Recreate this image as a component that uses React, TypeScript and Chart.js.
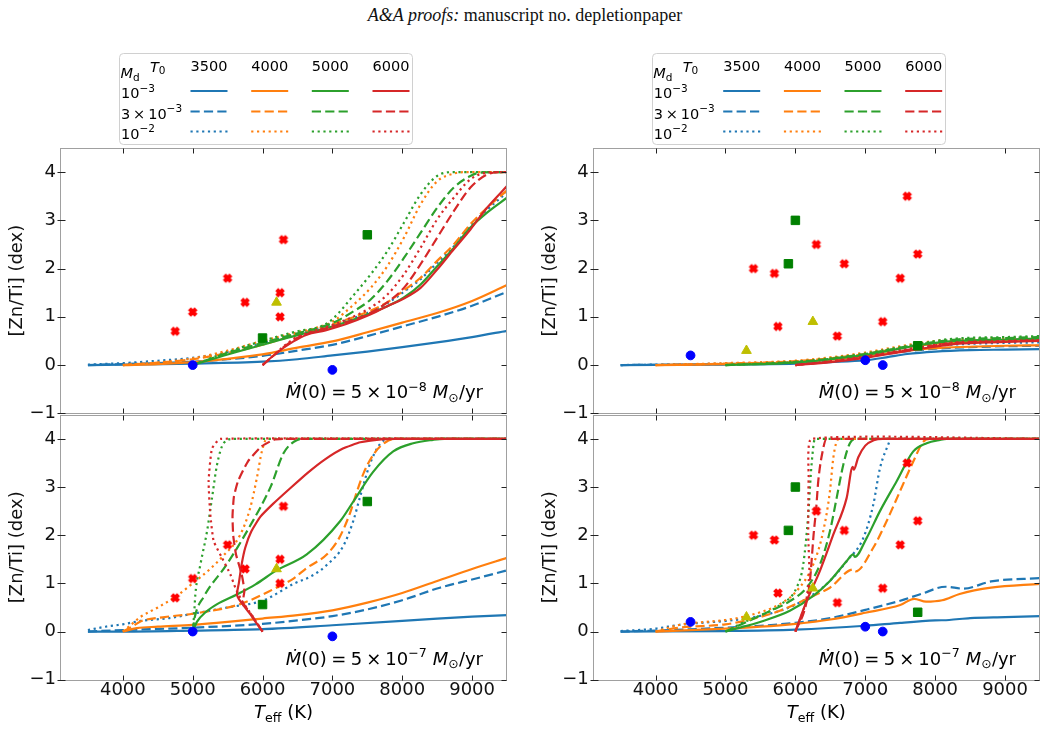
import React, { useEffect, useRef } from 'react';
import { Chart, registerables } from 'chart.js';

Chart.register(...registerables);

type P = [number, number];

const FONT = "'DejaVu Sans', 'Noto Sans', sans-serif";
const LINE_COLORS = ['#1f77b4', '#ff7f0e', '#2ca02c', '#d62728'];
const T0_LABELS = ['3500', '4000', '5000', '6000'];
const MD_ROWS = [
  { base: '10', sup: '\u22123' },
  { base: '3\u2009\u00d7\u200910', sup: '\u22123' },
  { base: '10', sup: '\u22122' },
];
const DASHES: number[][] = [[], [9.2, 4.2], [2.2, 3.6]];
const X_TICKS = [4000, 5000, 6000, 7000, 8000, 9000];
const Y_TICKS = [-1, 0, 1, 2, 3, 4];
const MDOT_EXP = ['\u22128', '\u22127'];

// ---------- observations (left column) ----------
const RED_X_A: P[] = [[4750, 0.7], [5000, 1.1], [5500, 1.8], [5750, 1.3], [6250, 1.5], [6250, 1.0], [6300, 2.6]];
const GREEN_SQ_A: P[] = [[6000, 0.56], [7500, 2.7]];
const YELLOW_TRI_A: P[] = [[6200, 1.3]];
const BLUE_CIRC_A: P[] = [[5000, 0], [7000, -0.1]];
// ---------- observations (right column) ----------
const RED_X_B: P[] = [[5400, 2.0], [5700, 1.9], [5750, 0.8], [6300, 2.5], [6600, 0.6], [6700, 2.1], [7250, 0.9], [7500, 1.8], [7600, 3.5], [7750, 2.3]];
const GREEN_SQ_B: P[] = [[5900, 2.1], [6000, 3.0], [7750, 0.4]];
const YELLOW_TRI_B: P[] = [[5300, 0.3], [6250, 0.9]];
const BLUE_CIRC_B: P[] = [[4500, 0.2], [7000, 0.1], [7250, 0]];

// ---------- top-left models (Mdot = 5e-8) ----------
const TL_35_S: P[] = [[3500, 0], [4000, 0.01], [5000, 0.03], [6000, 0.07], [6500, 0.12], [7000, 0.2], [7500, 0.28], [8000, 0.37], [8500, 0.47], [9000, 0.58], [9500, 0.71]];
const TL_35_D: P[] = [[3500, 0], [4000, 0.02], [5000, 0.07], [5500, 0.12], [6000, 0.19], [6500, 0.3], [7000, 0.42], [7500, 0.6], [8000, 0.8], [8500, 1.0], [9000, 1.23], [9500, 1.52]];
const TL_35_P: P[] = [[3500, 0.01], [4000, 0.04], [4500, 0.09], [5000, 0.15], [5500, 0.27], [6000, 0.45], [6500, 0.65], [7000, 0.84], [7500, 1.08], [7786, 1.28], [8024, 1.52], [8262, 1.78], [8500, 2.12], [8738, 2.46], [8976, 2.88], [9214, 3.22], [9500, 3.58]];
const TL_40_S: P[] = [[4000, 0], [4500, 0.02], [5000, 0.06], [5500, 0.13], [6000, 0.22], [6500, 0.36], [7000, 0.49], [7500, 0.68], [8000, 0.88], [8500, 1.08], [9000, 1.33], [9500, 1.66]];
const TL_40_D: P[] = [[4000, 0], [4500, 0.05], [5000, 0.12], [5500, 0.25], [6000, 0.42], [6500, 0.64], [7000, 0.85], [7500, 1.1], [7786, 1.3], [8024, 1.55], [8262, 1.81], [8500, 2.16], [8738, 2.5], [8976, 2.92], [9214, 3.26], [9500, 3.62]];
const TL_40_P: P[] = [[4000, 0], [4500, 0.05], [5000, 0.14], [5500, 0.3], [6000, 0.5], [6500, 0.68], [6833, 0.8], [7000, 0.9], [7310, 1.26], [7548, 1.6], [7786, 2.05], [8024, 2.64], [8262, 3.33], [8500, 3.81], [8738, 3.97], [8900, 4.0], [9500, 4.0]];
const TL_50_S: P[] = [[5000, 0], [5500, 0.22], [6000, 0.42], [6500, 0.62], [7000, 0.8], [7500, 1.05], [7786, 1.22], [8024, 1.4], [8262, 1.67], [8500, 2.05], [8738, 2.43], [8976, 2.85], [9214, 3.16], [9500, 3.47]];
const TL_50_D: P[] = [[5000, 0], [5500, 0.25], [6000, 0.46], [6500, 0.66], [7000, 0.87], [7310, 1.12], [7548, 1.36], [7786, 1.74], [8024, 2.22], [8262, 2.74], [8500, 3.26], [8738, 3.68], [8976, 3.92], [9119, 3.99], [9300, 4.0], [9500, 4.0]];
const TL_50_P: P[] = [[5000, 0], [5500, 0.27], [6000, 0.5], [6500, 0.7], [6833, 0.8], [7000, 0.95], [7310, 1.46], [7548, 1.88], [7786, 2.36], [8024, 2.95], [8262, 3.54], [8500, 3.92], [8738, 4.0], [9500, 4.0]];
const TL_60_S: P[] = [[6000, 0], [6200, 0.25], [6443, 0.49], [6633, 0.63], [6900, 0.72], [7200, 0.85], [7500, 1.02], [7786, 1.22], [8024, 1.38], [8262, 1.6], [8500, 1.98], [8738, 2.4], [8976, 2.81], [9214, 3.26], [9500, 3.71]];
const TL_60_D: P[] = [[6000, 0], [6443, 0.52], [6633, 0.64], [7000, 0.8], [7500, 1.05], [7786, 1.3], [8024, 1.6], [8262, 2.09], [8500, 2.64], [8738, 3.19], [8976, 3.68], [9214, 3.95], [9405, 4.0], [9500, 4.0]];
const TL_60_P: P[] = [[6000, 0], [6443, 0.54], [6633, 0.66], [7000, 0.83], [7500, 1.15], [7786, 1.46], [8024, 1.88], [8262, 2.43], [8500, 3.02], [8738, 3.47], [8976, 3.85], [9214, 3.99], [9400, 4.0], [9500, 4.0]];

// ---------- top-right models (Mdot = 5e-8) ----------
const TR_35_S: P[] = [[3500, 0], [5000, 0.01], [6000, 0.03], [6500, 0.06], [7000, 0.1], [7300, 0.16], [7600, 0.23], [8000, 0.28], [8500, 0.31], [9000, 0.32], [9500, 0.33]];
const TR_35_D: P[] = [[3500, 0], [5000, 0.02], [6000, 0.05], [6500, 0.1], [7000, 0.17], [7500, 0.27], [8000, 0.34], [8500, 0.37], [9000, 0.39], [9500, 0.4]];
const TR_35_P: P[] = [[3500, 0], [5000, 0.03], [6000, 0.07], [6500, 0.13], [7000, 0.21], [7500, 0.32], [8000, 0.4], [8500, 0.44], [9000, 0.46], [9500, 0.47]];
const TR_40_S: P[] = [[4000, 0], [5000, 0.02], [6000, 0.06], [6500, 0.11], [7000, 0.18], [7500, 0.28], [8000, 0.35], [8500, 0.38], [9000, 0.4], [9500, 0.41]];
const TR_40_D: P[] = [[4000, 0], [5000, 0.03], [6000, 0.08], [6500, 0.14], [7000, 0.23], [7500, 0.35], [8000, 0.44], [8500, 0.48], [9000, 0.5], [9500, 0.51]];
const TR_40_P: P[] = [[4000, 0], [5000, 0.04], [6000, 0.09], [6500, 0.16], [7000, 0.26], [7500, 0.39], [8000, 0.5], [8500, 0.54], [9000, 0.56], [9500, 0.57]];
const TR_50_S: P[] = [[5000, 0], [5500, 0.02], [6000, 0.05], [6500, 0.12], [7000, 0.21], [7500, 0.34], [7750, 0.41], [8000, 0.46], [8300, 0.5], [9000, 0.53], [9500, 0.55]];
const TR_50_D: P[] = [[5000, 0], [6000, 0.06], [6500, 0.13], [7000, 0.23], [7500, 0.36], [7750, 0.42], [8000, 0.48], [8300, 0.53], [9000, 0.56], [9500, 0.58]];
const TR_50_P: P[] = [[5000, 0], [6000, 0.07], [6500, 0.14], [7000, 0.24], [7500, 0.37], [7750, 0.43], [8000, 0.5], [8300, 0.55], [9000, 0.58], [9500, 0.6]];
const TR_60_S: P[] = [[6000, 0], [6500, 0.06], [7000, 0.15], [7500, 0.27], [7750, 0.33], [8000, 0.38], [8300, 0.44], [9000, 0.48], [9500, 0.5]];
const TR_60_D: P[] = [[6000, 0], [6500, 0.07], [7000, 0.17], [7500, 0.29], [7750, 0.35], [8000, 0.41], [8300, 0.46], [9000, 0.49], [9500, 0.51]];
const TR_60_P: P[] = [[6000, 0], [6500, 0.08], [7000, 0.18], [7500, 0.3], [7750, 0.36], [8000, 0.42], [8300, 0.47], [9000, 0.5], [9500, 0.52]];

// ---------- bottom-left models (Mdot = 5e-7) ----------
const BL_35_S: P[] = [[3500, 0], [4000, 0.0], [5000, 0.02], [6000, 0.05], [7000, 0.13], [8000, 0.22], [8500, 0.27], [9000, 0.31], [9500, 0.34]];
const BL_35_D: P[] = [[3500, 0], [4000, 0.03], [5000, 0.08], [6000, 0.16], [6500, 0.23], [7000, 0.32], [7500, 0.46], [8000, 0.65], [8538, 0.91], [9000, 1.08], [9500, 1.27]];
const BL_35_P: P[] = [[3500, 0.03], [3750, 0.1], [4000, 0.15], [4250, 0.22], [4670, 0.28], [5000, 0.37], [5500, 0.5], [6000, 0.64], [6157, 0.75], [6443, 0.99], [6700, 1.15], [6919, 1.38], [7157, 1.78], [7300, 2.3], [7395, 2.79], [7538, 3.48], [7681, 3.89], [7800, 4.0], [9500, 4.0]];
const BL_40_S: P[] = [[4000, 0], [4200, 0.07], [4500, 0.1], [5000, 0.14], [5500, 0.2], [6000, 0.27], [6500, 0.34], [7000, 0.44], [7500, 0.6], [8000, 0.8], [8500, 1.05], [9000, 1.3], [9500, 1.53]];
const BL_40_D: P[] = [[4000, 0], [4150, 0.12], [4252, 0.21], [4600, 0.3], [5000, 0.37], [5681, 0.57], [6157, 0.88], [6443, 1.1], [6633, 1.32], [6919, 1.6], [7100, 1.95], [7250, 2.45], [7350, 2.9], [7450, 3.3], [7600, 3.7], [7750, 3.92], [7900, 4.0], [9500, 4.0]];
const BL_40_P: P[] = [[4000, 0], [4100, 0.12], [4250, 0.3], [4500, 0.5], [4750, 0.72], [5000, 1.0], [5250, 1.3], [5443, 1.58], [5681, 2.01], [5824, 2.57], [5919, 3.19], [5990, 3.74], [6062, 4.0], [9500, 4.0]];
const BL_50_S: P[] = [[5000, 0], [5060, 0.2], [5200, 0.42], [5350, 0.57], [5633, 0.77], [5900, 0.98], [6200, 1.27], [6633, 1.6], [7110, 2.29], [7300, 2.7], [7586, 3.32], [7871, 3.74], [8157, 3.91], [8443, 3.98], [8600, 4.0], [9500, 4.0]];
const BL_50_D: P[] = [[5000, 0], [5030, 0.3], [5157, 0.72], [5490, 1.4], [5824, 2.2], [6120, 3.02], [6300, 3.7], [6490, 3.97], [6633, 4.0], [9500, 4.0]];
const BL_50_P: P[] = [[5000, 0], [5020, 0.35], [5038, 0.77], [5110, 1.39], [5205, 2.08], [5276, 2.77], [5348, 3.46], [5443, 3.91], [5586, 4.0], [9500, 4.0]];
const BL_60_S: P[] = [[6000, 0], [5900, 0.2], [5824, 0.36], [5681, 0.63], [5633, 0.77], [5660, 1.0], [5700, 1.39], [5752, 1.74], [5840, 2.08], [5967, 2.38], [6150, 2.65], [6400, 2.98], [6650, 3.3], [6900, 3.58], [7150, 3.8], [7400, 3.93], [7700, 3.99], [7900, 4.0], [9500, 4.0]];
const BL_60_D: P[] = [[6000, 0], [5850, 0.33], [5720, 0.6], [5740, 0.85], [5700, 1.2], [5620, 1.6], [5580, 2.0], [5570, 2.4], [5590, 2.8], [5648, 3.12], [5790, 3.53], [5981, 3.84], [6157, 3.98], [6300, 4.0], [9500, 4.0]];
const BL_60_P: P[] = [[6000, 0], [5850, 0.33], [5700, 0.65], [5610, 0.91], [5538, 1.19], [5419, 1.53], [5300, 1.88], [5252, 2.43], [5228, 3.12], [5276, 3.8], [5395, 4.0], [9500, 4.0]];

// ---------- bottom-right models (Mdot = 5e-7) ----------
const BR_35_S: P[] = [[3500, 0], [5000, 0.01], [6000, 0.04], [7000, 0.12], [7500, 0.18], [8000, 0.23], [8200, 0.24], [8500, 0.28], [9000, 0.3], [9500, 0.32]];
const BR_35_D: P[] = [[3500, 0], [4000, 0.02], [5000, 0.08], [5500, 0.12], [6000, 0.18], [6500, 0.28], [7000, 0.45], [7500, 0.64], [7800, 0.78], [8150, 0.93], [8400, 0.89], [8800, 1.04], [9500, 1.11]];
const BR_35_P: P[] = [[3500, 0.01], [4000, 0.06], [4346, 0.14], [5000, 0.22], [5300, 0.27], [5778, 0.43], [6017, 0.57], [6255, 0.77], [6494, 1.05], [6733, 1.46], [6971, 1.94], [7114, 2.63], [7210, 3.39], [7343, 3.94]];
const BR_40_S: P[] = [[4000, 0], [5000, 0.06], [5500, 0.1], [6000, 0.16], [6500, 0.25], [7000, 0.39], [7500, 0.55], [7700, 0.68], [7870, 0.62], [8100, 0.65], [8350, 0.78], [8800, 0.91], [9500, 0.99]];
const BR_40_D: P[] = [[4000, 0], [4346, 0.08], [5000, 0.15], [5300, 0.23], [5778, 0.43], [6255, 0.74], [6494, 0.91], [6828, 1.29], [6860, 1.25], [7114, 1.74], [7305, 2.29], [7496, 2.91], [7687, 3.53], [7830, 3.94], [7926, 4.0], [9500, 4.0]];
const BR_40_P: P[] = [[4000, 0], [4346, 0.14], [5000, 0.24], [5300, 0.32], [5778, 0.57], [6017, 0.84], [6255, 1.39], [6398, 2.08], [6494, 2.91], [6542, 3.6], [6590, 3.94], [6637, 4.0], [9500, 4.0]];
const BR_50_S: P[] = [[5000, 0], [5539, 0.22], [5921, 0.43], [6255, 0.74], [6494, 1.05], [6733, 1.46], [6828, 1.6], [6850, 1.55], [7019, 1.94], [7210, 2.5], [7449, 3.12], [7687, 3.74], [7878, 3.91], [8069, 3.98], [8164, 4.0], [9500, 4.0]];
const BR_50_D: P[] = [[5000, 0], [5539, 0.36], [5921, 0.63], [6160, 0.91], [6351, 1.39], [6494, 2.08], [6590, 2.77], [6685, 3.46], [6780, 3.91], [6876, 4.0], [9500, 4.0]];
const BR_50_P: P[] = [[5000, 0], [5300, 0.22], [5600, 0.4], [5778, 0.55], [6017, 0.91], [6112, 1.39], [6184, 2.43], [6231, 3.46], [6280, 4.0], [9500, 4.0]];
const BR_60_S: P[] = [[6000, 0], [6160, 0.63], [6351, 1.26], [6542, 2.01], [6733, 2.77], [6820, 3.42], [6835, 3.36], [6900, 3.62], [7000, 3.86], [7120, 3.97], [7250, 4.0], [9500, 4.0]];
const BR_60_D: P[] = [[6000, 0], [6150, 0.55], [6208, 1.05], [6260, 2.0], [6300, 2.6], [6327, 3.12], [6398, 3.8], [6446, 4.0], [9500, 4.0]];
const BR_60_P: P[] = [[6000, 0], [6150, 0.6], [6200, 1.2], [6184, 2.0], [6190, 3.2], [6231, 4.0], [9500, 4.0]];

type Panel = {
  lines: P[][];
  obs: { redX: P[]; greenSq: P[]; yellowTri: P[]; blueCirc: P[] };
  exp: string;
  bottom: boolean;
  left: number;
  top: number;
  w: number;
  h: number;
  areaLeft: number;
  padRight: number;
  padTop: number;
  padBottom: number;
  xAxisH: number;
  titlePad: number;
};

const OBS_A = { redX: RED_X_A, greenSq: GREEN_SQ_A, yellowTri: YELLOW_TRI_A, blueCirc: BLUE_CIRC_A };
const OBS_B = { redX: RED_X_B, greenSq: GREEN_SQ_B, yellowTri: YELLOW_TRI_B, blueCirc: BLUE_CIRC_B };

const PANELS: Panel[] = [
  {
    lines: [TL_35_S, TL_35_D, TL_35_P, TL_40_S, TL_40_D, TL_40_P, TL_50_S, TL_50_D, TL_50_P, TL_60_S, TL_60_D, TL_60_P],
    obs: OBS_A, exp: MDOT_EXP[0], bottom: false,
    left: 0, top: 40, w: 530, h: 390, areaLeft: 60, padRight: 23, padTop: 108, padBottom: 16.7, xAxisH: 0, titlePad: 7,
  },
  {
    lines: [TR_35_S, TR_35_D, TR_35_P, TR_40_S, TR_40_D, TR_40_P, TR_50_S, TR_50_D, TR_50_P, TR_60_S, TR_60_D, TR_60_P],
    obs: OBS_B, exp: MDOT_EXP[0], bottom: false,
    left: 530, top: 40, w: 517, h: 390, areaLeft: 62.7, padRight: 7, padTop: 108, padBottom: 16.7, xAxisH: 0, titlePad: 9.7,
  },
  {
    lines: [BL_35_S, BL_35_D, BL_35_P, BL_40_S, BL_40_D, BL_40_P, BL_50_S, BL_50_D, BL_50_P, BL_60_S, BL_60_D, BL_60_P],
    obs: OBS_A, exp: MDOT_EXP[1], bottom: true,
    left: 0, top: 400, w: 530, h: 329, areaLeft: 60, padRight: 23, padTop: 13.3, padBottom: 0, xAxisH: 49.3, titlePad: 7,
  },
  {
    lines: [BR_35_S, BR_35_D, BR_35_P, BR_40_S, BR_40_D, BR_40_P, BR_50_S, BR_50_D, BR_50_P, BR_60_S, BR_60_D, BR_60_P],
    obs: OBS_B, exp: MDOT_EXP[1], bottom: true,
    left: 530, top: 400, w: 517, h: 329, areaLeft: 62.7, padRight: 7, padTop: 13.3, padBottom: 0, xAxisH: 49.3, titlePad: 9.7,
  },
];

let xMarkerCanvas: HTMLCanvasElement | null = null;
function getXMarker(): HTMLCanvasElement {
  if (xMarkerCanvas) return xMarkerCanvas;
  const s = 12;
  const c = document.createElement('canvas');
  c.width = s;
  c.height = s;
  const g = c.getContext('2d')!;
  g.translate(s / 2, s / 2);
  g.rotate(Math.PI / 4);
  const L = 4.7;
  const W = 2.05;
  g.fillStyle = '#ff0000';
  g.beginPath();
  g.rect(-L, -W, 2 * L, 2 * W);
  g.rect(-W, -L, 2 * W, 2 * L);
  g.fill('nonzero');
  xMarkerCanvas = c;
  return c;
}

type Seg = { t: string; size: number; italic?: boolean; dy?: number; gapL?: number; gapR?: number };

function drawRich(ctx: CanvasRenderingContext2D, segs: Seg[], x: number, y: number, align: 'left' | 'right' | 'center') {
  const fonts = segs.map((s) => `${s.italic ? 'italic ' : ''}${s.size}px ${FONT}`);
  let total = 0;
  segs.forEach((s, i) => {
    ctx.font = fonts[i];
    total += (s.gapL || 0) + ctx.measureText(s.t).width + (s.gapR || 0);
  });
  let cx = align === 'right' ? x - total : align === 'center' ? x - total / 2 : x;
  ctx.textAlign = 'left';
  ctx.textBaseline = 'alphabetic';
  ctx.fillStyle = '#000';
  segs.forEach((s, i) => {
    ctx.font = fonts[i];
    cx += s.gapL || 0;
    ctx.fillText(s.t, cx, y + (s.dy || 0));
    cx += ctx.measureText(s.t).width + (s.gapR || 0);
  });
}

function drawLegend(ctx: CanvasRenderingContext2D, x0: number, y0: number) {
  ctx.save();
  const bx = x0 + 59, by = y0 - 95, bw = 293, bh = 91;
  ctx.beginPath();
  ctx.roundRect(Math.round(bx) + 0.5, Math.round(by) + 0.5, bw, bh, 4);
  ctx.fillStyle = 'rgba(255,255,255,0.8)';
  ctx.fill();
  ctx.strokeStyle = '#d0d0d0';
  ctx.lineWidth = 1;
  ctx.stroke();

  const fs = 14.5;
  drawRich(ctx, [{ t: 'M', size: fs, italic: true }, { t: 'd', size: 10.5, dy: 3 }], x0 + 60.5, y0 - 70, 'left');
  drawRich(ctx, [{ t: 'T', size: fs, italic: true }, { t: '0', size: 10.5, dy: 2.5 }], x0 + 90, y0 - 76.5, 'left');
  const colX = [149, 209.7, 270.3, 331];
  T0_LABELS.forEach((lab, i) => {
    drawRich(ctx, [{ t: lab, size: fs }], x0 + colX[i], y0 - 77, 'center');
  });
  const rowBase = [-50, -29.5, -9.5];
  MD_ROWS.forEach((r, j) => {
    drawRich(ctx, [{ t: r.base, size: fs }, { t: r.sup, size: 10.5, dy: -6.5 }], x0 + 61, y0 + rowBase[j], 'left');
    LINE_COLORS.forEach((col, i) => {
      ctx.beginPath();
      ctx.strokeStyle = col;
      ctx.lineWidth = 2.2;
      ctx.lineCap = 'butt';
      ctx.setLineDash(DASHES[j]);
      const cx = x0 + colX[i];
      const yy = y0 + rowBase[j] - 7;
      ctx.moveTo(cx - 18.5, yy);
      ctx.lineTo(cx + 18.5, yy);
      ctx.stroke();
    });
  });
  ctx.setLineDash([]);
  ctx.restore();
}

function makePlugin(p: Panel) {
  return {
    id: 'panelDeco',
    afterDraw(chart: any) {
      const { ctx, chartArea: a, scales } = chart;
      ctx.save();
      // spines (pixel-snapped)
      const L = Math.round(a.left) + 0.5;
      const R = Math.round(a.right) - 0.5;
      const T = Math.round(a.top) + 0.5;
      const B = Math.round(a.bottom) + 0.5;
      ctx.strokeStyle = '#a0a0a0';
      ctx.lineWidth = 1;
      ctx.setLineDash([]);
      ctx.strokeRect(L, T, R - L, B - T);
      // inward ticks
      ctx.strokeStyle = '#222';
      ctx.lineWidth = 1;
      ctx.beginPath();
      X_TICKS.forEach((v) => {
        const px = Math.round(scales.x.getPixelForValue(v)) + 0.5;
        ctx.moveTo(px, B);
        ctx.lineTo(px, B - 5);
        ctx.moveTo(px, T);
        ctx.lineTo(px, T + 5);
      });
      Y_TICKS.forEach((v) => {
        const py = Math.round(scales.y.getPixelForValue(v)) + 0.5;
        ctx.moveTo(L - 3, py);
        ctx.lineTo(L + 5, py);
        ctx.moveTo(R, py);
        ctx.lineTo(R - 5, py);
      });
      ctx.stroke();
      // Mdot annotation
      drawRich(
        ctx,
        [
          { t: '\u1E40', size: 18, italic: true },
          { t: '(0)', size: 18 },
          { t: '=', size: 18, gapL: 4.5, gapR: 4.5 },
          { t: '5', size: 18 },
          { t: '\u00d7', size: 18, gapL: 4, gapR: 4 },
          { t: '10', size: 18 },
          { t: p.exp, size: 12.6, dy: -7.5 },
          { t: 'M', size: 18, italic: true, gapL: 6 },
          { t: '\u2299', size: 12.6, dy: 3.5 },
          { t: '/yr', size: 18 },
        ],
        a.right - 24,
        a.bottom - 15,
        'right'
      );
      if (p.bottom) {
        drawRich(
          ctx,
          [
            { t: 'T', size: 18, italic: true },
            { t: 'eff', size: 12.6, dy: 3.5 },
            { t: ' (K)', size: 18 },
          ],
          (a.left + a.right) / 2,
          a.bottom + 38.3,
          'center'
        );
      } else {
        drawLegend(ctx, a.left, a.top);
      }
      ctx.restore();
    },
  };
}

const toXY = (arr: P[]) => arr.map(([x, y]) => ({ x, y }));
const isMonotone = (arr: P[]) => arr.every((pt, i) => i === 0 || pt[0] > arr[i - 1][0]);
const fmtY = (v: number) => (v < 0 ? '\u2212' + Math.abs(v) : String(v));

function buildConfig(p: Panel): any {
  const xImg = getXMarker();
  const markerSets = [
    { data: toXY(p.obs.blueCirc), pointStyle: 'circle', pointRadius: 4.4, color: '#0000ff' },
    { data: toXY(p.obs.greenSq), pointStyle: 'rect', pointRadius: 6, color: '#008000' },
    { data: toXY(p.obs.yellowTri), pointStyle: 'triangle', pointRadius: 5.6, color: '#bfbf00' },
    { data: toXY(p.obs.redX), pointStyle: xImg, pointRadius: 5, color: '#ff0000' },
  ].map((m) => ({
    data: m.data,
    showLine: false,
    pointStyle: m.pointStyle,
    pointRadius: m.pointRadius,
    pointBackgroundColor: m.color,
    pointBorderColor: m.color,
    pointBorderWidth: 1,
    order: 0,
  }));
  const lineSets = p.lines.map((arr, k) => {
    const mono = isMonotone(arr);
    return {
      data: toXY(arr),
      showLine: true,
      borderColor: LINE_COLORS[Math.floor(k / 3)],
      backgroundColor: LINE_COLORS[Math.floor(k / 3)],
      borderWidth: 2.2,
      borderDash: DASHES[k % 3],
      borderCapStyle: 'butt',
      borderJoinStyle: 'round',
      pointRadius: 0,
      fill: false,
      cubicInterpolationMode: mono ? 'monotone' : 'default',
      tension: mono ? 0.4 : 0.15,
      order: 100 - k,
    };
  });
  return {
    type: 'line',
    data: { datasets: [...markerSets, ...lineSets] },
    options: {
      animation: false,
      responsive: false,
      maintainAspectRatio: false,
      events: [],
      layout: { padding: { left: 0, right: p.padRight, top: p.padTop, bottom: p.padBottom } },
      plugins: { legend: { display: false }, tooltip: { enabled: false }, title: { display: false } },
      scales: {
        x: {
          type: 'linear',
          min: 3100,
          max: 9500,
          grid: { display: false, drawTicks: false },
          border: { display: false },
          ticks: {
            display: p.bottom,
            autoSkip: false,
            maxRotation: 0,
            minRotation: 0,
            padding: 0,
            color: '#111',
            font: { family: FONT, size: 18 },
            callback: (v: number) => String(v),
          },
          afterBuildTicks: (axis: any) => {
            axis.ticks = X_TICKS.map((v) => ({ value: v }));
          },
          afterFit: (axis: any) => {
            axis.height = p.xAxisH;
          },
        },
        y: {
          type: 'linear',
          min: -1,
          max: 4.5,
          grid: { display: false, drawTicks: false },
          border: { display: false },
          ticks: {
            autoSkip: false,
            padding: 4,
            color: '#111',
            font: { family: FONT, size: 18 },
            callback: (v: number) => fmtY(v),
          },
          afterBuildTicks: (axis: any) => {
            axis.ticks = Y_TICKS.map((v) => ({ value: v }));
          },
          afterFit: (axis: any) => {
            axis.width = p.areaLeft;
          },
          title: {
            display: true,
            text: '[Zn/Ti] (dex)',
            color: '#111',
            font: { family: FONT, size: 18 },
            padding: { top: p.titlePad, bottom: 0 },
          },
        },
      },
    },
    plugins: [makePlugin(p)],
  };
}

function PanelCanvas({ p }: { p: Panel }) {
  const ref = useRef<HTMLCanvasElement>(null);
  useEffect(() => {
    if (!ref.current) return;
    const chart = new Chart(ref.current, buildConfig(p));
    return () => chart.destroy();
  }, [p]);
  return (
    <canvas
      ref={ref}
      width={p.w}
      height={p.h}
      style={{ position: 'absolute', left: p.left, top: p.top, width: p.w, height: p.h }}
    />
  );
}

export default function App() {
  return (
    <div
      style={{
        position: 'fixed',
        left: 0,
        top: 0,
        width: 1047,
        height: 729,
        background: '#fff',
        overflow: 'hidden',
      }}
    >
      <div
        style={{
          position: 'absolute',
          left: 0,
          top: 5,
          width: 1050,
          textAlign: 'center',
          fontFamily: "'Liberation Serif', 'DejaVu Serif', serif",
          fontSize: 18,
          lineHeight: '20px',
          color: '#111',
          whiteSpace: 'nowrap',
        }}
      >
        <i>A&amp;A proofs:</i> manuscript no. depletionpaper
      </div>
      {PANELS.map((p, i) => (
        <PanelCanvas key={i} p={p} />
      ))}
    </div>
  );
}
